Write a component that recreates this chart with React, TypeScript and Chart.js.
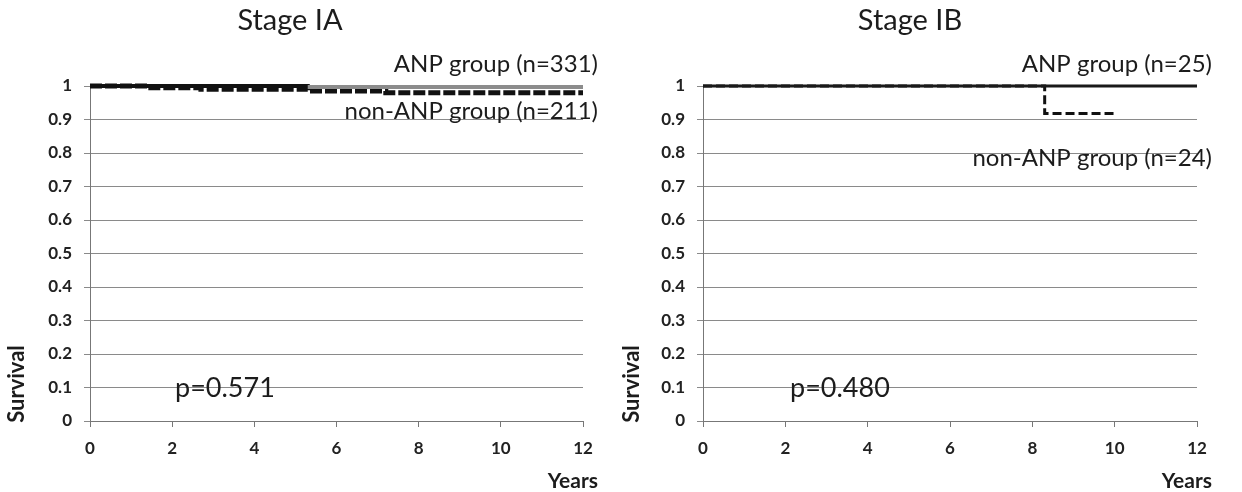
import React, { useEffect, useRef } from "react";
import { Chart, registerables } from "chart.js";
Chart.register(...registerables);

const yearTicks = [0, 2, 4, 6, 8, 10, 12];
const survivalTicks = [0, 0.1, 0.2, 0.3, 0.4, 0.5, 0.6, 0.7, 0.8, 0.9, 1];

// Stage IA
const iaAnpYears = [0, 5.3, 12];
const iaAnpSurvival = [1, 0.997, 0.997];
const iaNonAnpYears = [0, 1.4, 2.7, 5.3, 7.2, 12];
const iaNonAnpSurvival = [1, 0.995, 0.99, 0.985, 0.98, 0.98];

// Stage IB
const ibAnpYears = [0, 12];
const ibAnpSurvival = [1, 1];
const ibNonAnpYears = [0, 8.3, 10];
const ibNonAnpSurvival = [1, 0.918, 0.918];

const FONT = "Lato, 'Open Sans', sans-serif";
const W = 621;
const H = 492;

type Panel = {
  title: string;
  anpLabel: string;
  nonAnpLabel: string;
  pText: string;
  anpYears: number[];
  anpSurv: number[];
  nonYears: number[];
  nonSurv: number[];
  anpFirstColor: string;
  anpColor: string;
  anpWidth: number;
  nonWidth: number;
  nonDash: number[];
  plotLeft: number;
  plotRight: number;
  titleX: number;
  labelRight: number;
  anpLabelY: number;
  nonLabelY: number;
  pX: number;
  survivalX: number;
};

const panels: Panel[] = [
  {
    title: "Stage IA",
    anpLabel: "ANP group (n=331)",
    nonAnpLabel: "non-ANP group (n=211)",
    pText: "p=0.571",
    anpYears: iaAnpYears,
    anpSurv: iaAnpSurvival,
    nonYears: iaNonAnpYears,
    nonSurv: iaNonAnpSurvival,
    anpFirstColor: "#111",
    anpColor: "#8c8c8c",
    anpWidth: 4,
    nonWidth: 5,
    nonDash: [12, 3],
    plotLeft: 90,
    plotRight: 583,
    titleX: 290,
    labelRight: 598,
    anpLabelY: 64,
    nonLabelY: 111,
    pX: 175,
    survivalX: 17,
  },
  {
    title: "Stage IB",
    anpLabel: "ANP group (n=25)",
    nonAnpLabel: "non-ANP group (n=24)",
    pText: "p=0.480",
    anpYears: ibAnpYears,
    anpSurv: ibAnpSurvival,
    nonYears: ibNonAnpYears,
    nonSurv: ibNonAnpSurvival,
    anpFirstColor: "#1a1a1a",
    anpColor: "#1a1a1a",
    anpWidth: 3,
    nonWidth: 3,
    nonDash: [9, 4],
    plotLeft: 82,
    plotRight: 576,
    titleX: 289,
    labelRight: 591,
    anpLabelY: 64,
    nonLabelY: 158,
    pX: 169,
    survivalX: 11,
  },
];

const PLOT_TOP = 86;
const PLOT_BOTTOM = 421;

function KMPanel({ p }: { p: Panel }) {
  const ref = useRef<HTMLCanvasElement>(null);
  useEffect(() => {
    if (!ref.current) return;
    const textPlugin = {
      id: "texts",
      afterDraw(chart: any) {
        const ctx = chart.ctx;
        ctx.save();
        ctx.fillStyle = "#1c1c1c";
        ctx.textBaseline = "middle";
        ctx.font = `29px ${FONT}`;
        ctx.textAlign = "center";
        ctx.fillText(p.title, p.titleX, 21);
        ctx.font = `24px ${FONT}`;
        ctx.textAlign = "right";
        ctx.fillText(p.anpLabel, p.labelRight, p.anpLabelY);
        ctx.fillText(p.nonAnpLabel, p.labelRight, p.nonLabelY);
        ctx.font = `27px ${FONT}`;
        ctx.textAlign = "left";
        ctx.fillText(p.pText, p.pX, 388);
        ctx.font = `bold 21px ${FONT}`;
        ctx.textAlign = "right";
        ctx.fillText("Years", p.labelRight, 481);
        ctx.save();
        ctx.translate(p.survivalX, 384);
        ctx.rotate(-Math.PI / 2);
        ctx.font = `bold 22px ${FONT}`;
        ctx.textAlign = "center";
        ctx.fillText("Survival", 0, 0);
        ctx.restore();
        ctx.restore();
      },
    };
    const chart = new Chart(ref.current, {
      type: "line",
      data: {
        datasets: [
          {
            label: "ANP",
            data: p.anpYears.map((x, i) => ({ x, y: p.anpSurv[i] })),
            borderColor: p.anpColor,
            borderWidth: p.anpWidth,
            segment: {
              borderColor: (c: any) => (c.p0DataIndex === 0 ? p.anpFirstColor : p.anpColor),
            },
            stepped: "before",
            pointRadius: 0,
            fill: false,
            clip: false as any,
          },
          {
            label: "non-ANP",
            data: p.nonYears.map((x, i) => ({ x, y: p.nonSurv[i] })),
            borderColor: "#111",
            borderWidth: p.nonWidth,
            borderDash: p.nonDash,
            stepped: "before",
            pointRadius: 0,
            fill: false,
            clip: false as any,
          },
        ],
      },
      options: {
        animation: false,
        responsive: false,
        devicePixelRatio: 1,
        layout: { padding: { top: PLOT_TOP, right: W - p.plotRight, left: 0, bottom: 0 } },
        plugins: { legend: { display: false }, tooltip: { enabled: false } },
        scales: {
          x: {
            type: "linear",
            min: 0,
            max: 12,
            afterFit: (s: any) => {
              s.height = H - PLOT_BOTTOM;
            },
            afterBuildTicks: (s: any) => {
              s.ticks = yearTicks.map((v) => ({ value: v }));
            },
            ticks: {
              color: "#222",
              font: { family: FONT, size: 17, weight: "bold" },
              padding: 11,
              maxRotation: 0,
              callback: (v: any) => String(v),
            },
            grid: { drawOnChartArea: false, drawTicks: true, tickLength: 6, color: "#777" },
            border: { display: true, color: "#777", width: 1 },
          },
          y: {
            type: "linear",
            min: 0,
            max: 1,
            afterFit: (s: any) => {
              s.width = p.plotLeft;
            },
            afterBuildTicks: (s: any) => {
              s.ticks = survivalTicks.map((v) => ({ value: v }));
            },
            ticks: {
              color: "#222",
              font: { family: FONT, size: 17, weight: "bold" },
              padding: 12,
              callback: (v: any) => (v === 0 || v === 1 ? String(v) : Number(v).toFixed(1)),
            },
            grid: { color: "#8a8a8a", lineWidth: 1, tickLength: 6 },
            border: { display: true, color: "#777", width: 1 },
          },
        },
      },
      plugins: [textPlugin],
    });
    return () => chart.destroy();
  }, [p]);
  return <canvas ref={ref} width={W} height={H} style={{ width: W, height: H, display: "block" }} />;
}

export default function App() {
  return (
    <div style={{ position: "absolute", left: 0, top: 0, width: 1242, height: 492, display: "flex", background: "#fff" }}>
      {panels.map((p, i) => (
        <KMPanel key={i} p={p} />
      ))}
    </div>
  );
}
